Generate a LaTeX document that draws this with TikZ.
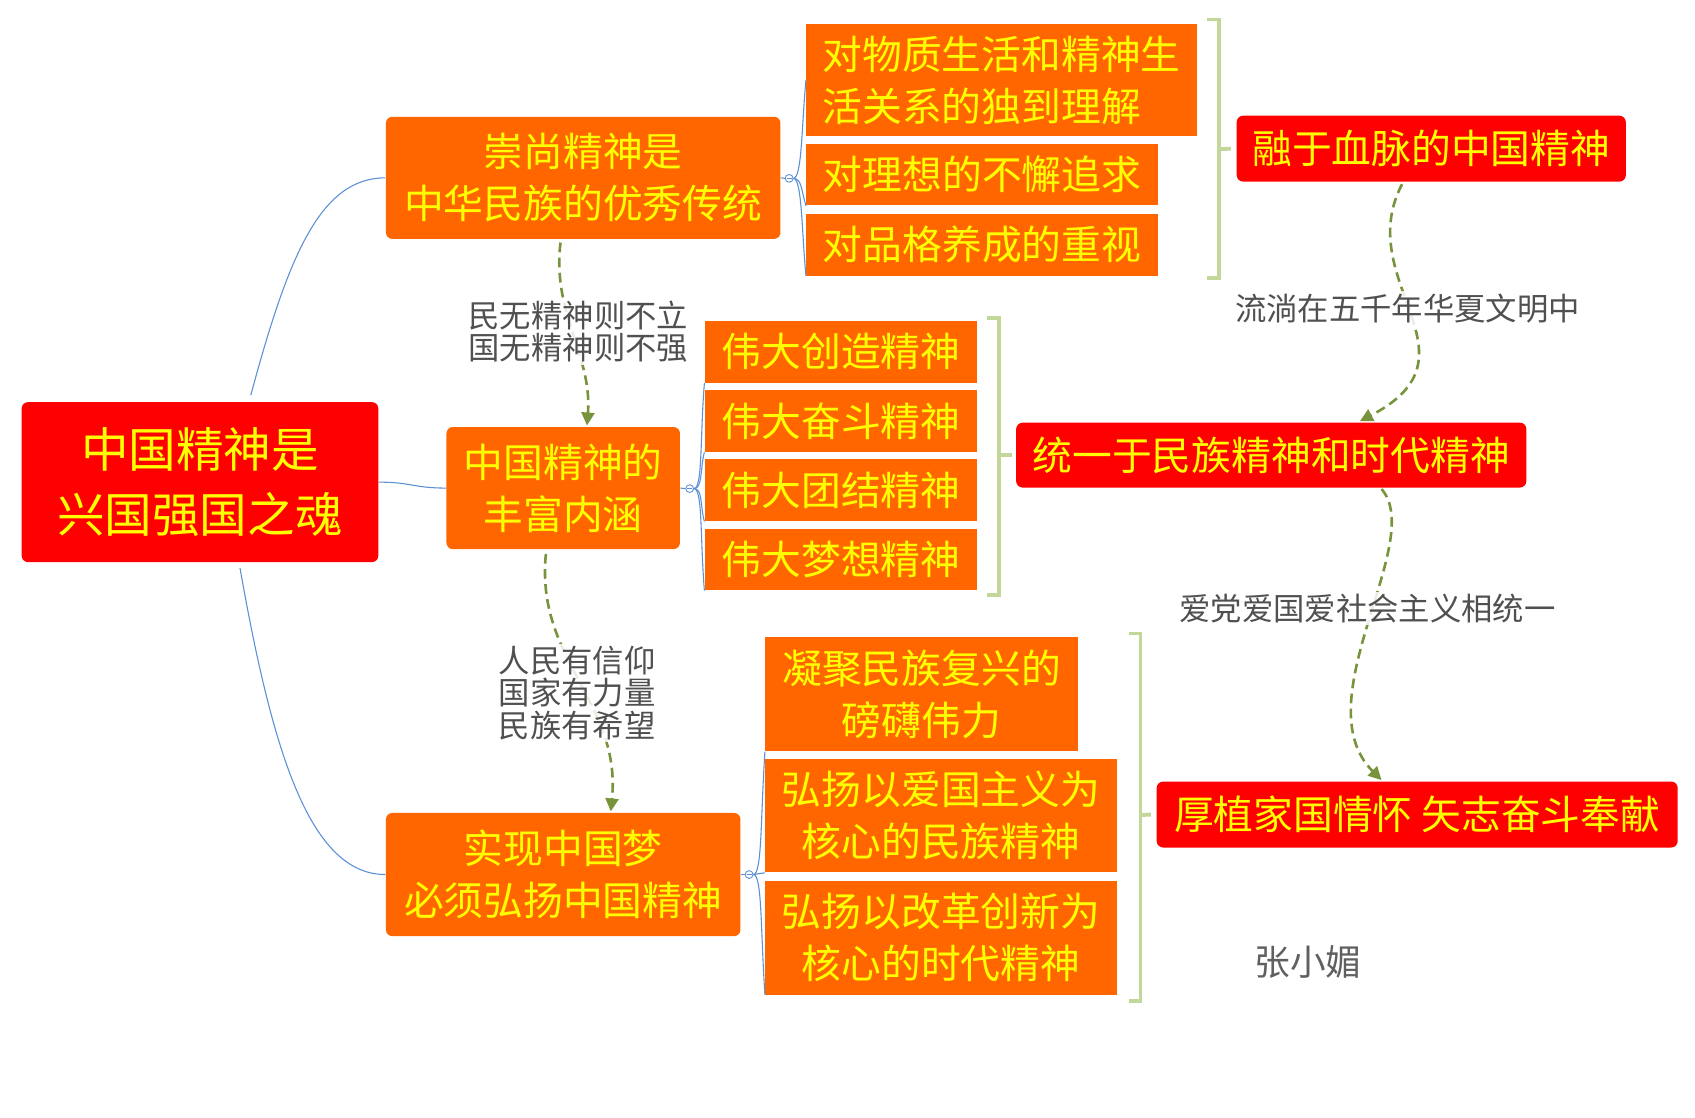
\documentclass[tikz,border=0pt]{standalone}
\usepackage{fontspec}
\setmainfont{Noto Sans CJK SC}
\usetikzlibrary{arrows.meta}
\definecolor{obg}{HTML}{FF6600}
\definecolor{rbg}{HTML}{FF0000}
\definecolor{ytxt}{HTML}{FFFF00}
\definecolor{blu}{HTML}{5B8FD6}
\definecolor{brk}{HTML}{C4D79B}
\definecolor{dgrn}{HTML}{77933C}
\definecolor{lblc}{HTML}{505050}
\definecolor{authc}{HTML}{606060}
\begin{document}
\begin{tikzpicture}[x=0.5pt,y=-0.5pt,
  box/.style={inner sep=0pt, text=ytxt, align=center},
  obox/.style={box, fill=obg},
  rob/.style={box, fill=obg, rounded corners=3pt},
  rbox/.style={box, fill=rbg, rounded corners=3pt},
  mfont/.style={font=\fontsize{18.4pt}{24pt}\selectfont},
  bigfont/.style={font=\fontsize{22pt}{30pt}\selectfont},
  link/.style={draw=blu, line width=0.5pt},
  knob/.style={circle, draw=blu, fill=white, inner sep=0pt, minimum size=3.6pt, line width=0.4pt,
    path picture={\draw[blu,line width=0.4pt] ([xshift=-1.1pt]path picture bounding box.center) -- ([xshift=1.1pt]path picture bounding box.center);}},
  brace/.style={draw=brk, line width=1.8pt},
  flow/.style={draw=dgrn, line width=1.2pt, dash pattern=on 4.5pt off 2.5pt, -{Triangle[length=6pt,width=6pt]}},
  lbl/.style={text=lblc, font=\fontsize{14.5pt}{15pt}\selectfont, align=center, fill=white, fill opacity=0.85, text opacity=1, inner sep=1pt}
]
\useasboundingbox (0,0) rectangle (1568,1034);

% main nodes
\node[rbox, bigfont, minimum width=165pt, minimum height=74pt] (root) at (185,446) {中国精神是\\兴国强国之魂};
\node[rob, mfont, minimum width=182.5pt, minimum height=56.5pt] (A) at (539.5,164.5) {崇尚精神是\\中华民族的优秀传统};
\node[rob, mfont, minimum width=108pt, minimum height=56.5pt] (B) at (521,451.5) {中国精神的\\丰富内涵};
\node[rob, mfont, minimum width=164pt, minimum height=57pt] (C) at (521,809) {实现中国梦\\必须弘扬中国精神};

% children of A
\node[obox, mfont, align=left, minimum width=180.5pt, minimum height=52pt] (A1) at (926.5,74) {对物质生活和精神生\\活关系的独到理解};
\node[obox, mfont, minimum width=162.5pt, minimum height=28.5pt] (A2) at (908.5,161.5) {对理想的不懈追求};
\node[obox, mfont, minimum width=162.5pt, minimum height=28.5pt] (A3) at (908.5,226.5) {对品格养成的重视};
\node[rbox, mfont, minimum width=180pt, minimum height=30.5pt] (R1) at (1324,137.5) {融于血脉的中国精神};

% children of B
\node[obox, mfont, minimum width=126pt, minimum height=28.5pt] (B1) at (778,325.5) {伟大创造精神};
\node[obox, mfont, minimum width=126pt, minimum height=28.5pt] (B2) at (778,389.5) {伟大奋斗精神};
\node[obox, mfont, minimum width=126pt, minimum height=28.5pt] (B3) at (778,453.5) {伟大团结精神};
\node[obox, mfont, minimum width=126pt, minimum height=28.5pt] (B4) at (778,517.5) {伟大梦想精神};
\node[rbox, mfont, minimum width=236pt, minimum height=30pt] (R2) at (1176,421) {统一于民族精神和时代精神};

% children of C
\node[obox, mfont, minimum width=144.5pt, minimum height=53pt] (C1) at (852.5,642) {凝聚民族复兴的\\磅礴伟力};
\node[obox, mfont, minimum width=162.5pt, minimum height=52.5pt] (C2) at (870.5,754.5) {弘扬以爱国主义为\\核心的民族精神};
\node[obox, mfont, minimum width=162.5pt, minimum height=52.5pt] (C3) at (870.5,867.5) {弘扬以改革创新为\\核心的时代精神};
\node[rbox, mfont, minimum width=241pt, minimum height=30.5pt] (R3) at (1311,753.5) {厚植家国情怀 矢志奋斗奉献};

% knobs
\node[knob] (cA) at (730,165) {};
\node[knob] (cB) at (638,452) {};
\node[knob] (cC) at (693,809) {};

% root links
\draw[link] ([shift={(47,-6)}]root.north) .. controls +(35,-130) and +(-60,0) .. (A.west);
\draw[link] (root.east) .. controls +(30,0) and +(-30,0) .. (B.west);
\draw[link] ([shift={(37,5)}]root.south) .. controls +(30,170) and +(-70,0) .. (C.west);

% parent to knobs
\draw[link] (A.east) -- (cA.west);
\draw[link] (B.east) -- (cB.west);
\draw[link] (C.east) -- (cC.west);

% knobs to children
\draw[link] (cA.east) .. controls +(8,0) and +(-4,40) .. (A1.west);
\draw[link] (cA.east) .. controls +(8,0) and +(-4,-12) .. (A2.south west);
\draw[link] (cA.east) .. controls +(8,0) and +(-4,-40) .. (A3.south west);
\draw[link] (cB.east) .. controls +(8,0) and +(-4,50) .. (B1.south west);
\draw[link] (cB.east) .. controls +(8,0) and +(-4,15) .. (B2.south west);
\draw[link] (cB.east) .. controls +(8,0) and +(-4,-15) .. (B3.south west);
\draw[link] (cB.east) .. controls +(8,0) and +(-4,-50) .. (B4.south west);
\draw[link] (cC.east) .. controls +(8,0) and +(-4,60) .. (C1.south west);
\draw[link] (cC.east) -- (C2.south west);
\draw[link] (cC.east) .. controls +(8,0) and +(-4,-60) .. (C3.south west);

% brackets
\coordinate (bA) at (1128,138);
\coordinate (bB) at (924,421);
\coordinate (bC) at (1055,754);
\draw[brace] (1117,18) -- (1128,18) -- (1128,257) -- (1117,257);
\draw[brace] (bA) -- ([xshift=-2.5pt]R1.west);
\draw[brace] (913,294) -- (924,294) -- (924,550) -- (913,550);
\draw[brace] (bB) -- ([xshift=-1.5pt]R2.west);
\draw[brace] (1044,586) -- (1055,586) -- (1055,926) -- (1044,926);
\draw[brace] (bC) -- ([xshift=-2.5pt]R3.west);

% dashed flows
\draw[flow] ([shift={(-21,3)}]A.south) .. controls +(-8,66) and +(5,-65) .. ([shift={(22,-1)}]B.north);
\draw[flow] ([shift={(-16,4)}]B.south) .. controls +(-10,98) and +(10,-101) .. ([shift={(44,-1)}]C.north);
\draw[flow] ([shift={(-27,2)}]R1.south) .. controls +(-47,90) and +(117,-61) .. ([shift={(82,-1)}]R2.north);
\draw[flow] ([shift={(102,1)}]R2.south) .. controls +(42,48) and +(-73,-73) .. ([shift={(-33,-1)}]R3.north);

% labels
\node[lbl] (l1) at (535,307) {民无精神则不立\\国无精神则不强};
\node[lbl] (l2) at (534,641) {人民有信仰\\国家有力量\\民族有希望};
\node[lbl] (l3) at (1302,285) {流淌在五千年华夏文明中};
\node[lbl] (l4) at (1265,563) {爱党爱国爱社会主义相统一};

\node[text=authc, font=\fontsize{16.5pt}{20pt}\selectfont] (au) at (1210,890) {张小媚};
\end{tikzpicture}
\end{document}
